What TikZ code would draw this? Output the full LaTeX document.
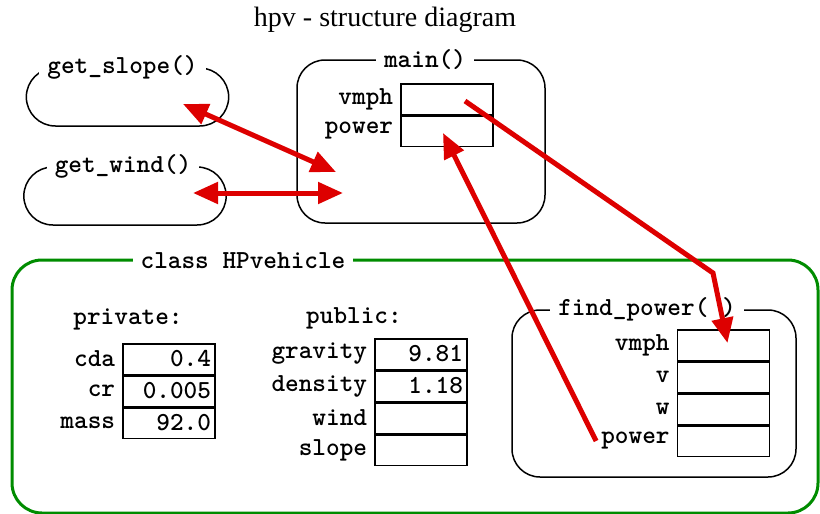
\documentclass[tikz,border=0pt]{standalone}
\usepackage{fontspec}
\setmainfont{Liberation Serif}
\usetikzlibrary{positioning, arrows.meta, shapes.misc}
\definecolor{linkred}{RGB}{221,0,0}
\definecolor{classgreen}{RGB}{0,140,0}
\tikzset{bigtip/.tip={Triangle[length=25pt, width=21pt]}}

\begin{document}
\begin{tikzpicture}[x=1pt, y=-1pt, node distance=5pt,
    every node/.style={font=\ttfamily\bfseries\fontsize{26}{28}\selectfont},
    cell/.style={draw, line width=1.5pt, minimum width=92pt, minimum height=30.5pt,
                 text width=84pt, align=right, inner xsep=4pt, inner ysep=0pt},
    varname/.style={inner sep=2pt},
    funcbox/.style={draw, line width=1.5pt, rounded corners=28pt},
    oval/.style={draw, line width=1.5pt, rounded rectangle, minimum width=209pt, minimum height=58pt},
    boxlabel/.style={fill=white, inner xsep=8pt, inner ysep=1pt},
    link/.style={draw=linkred, line width=5pt}]
  \useasboundingbox (0,0) rectangle (820,514);
  \node[font=\rmfamily\fontsize{28}{30}\selectfont] (title) at (385,20) {hpv - structure diagram};

  % free functions
  \node[oval] (slope) at (127.5,97) {};
  \node[boxlabel] (slopelbl) at ([xshift=-5pt]slope.north) {get\_slope()};
  \node[oval] (wind) at (125,196) {};
  \node[boxlabel] (windlbl) at ([xshift=-2pt]wind.north) {get\_wind()};

  % main
  \node[funcbox, minimum width=248pt, minimum height=163pt] (main) at (421,141.5) {};
  \node[boxlabel] (mainlbl) at ([xshift=4pt]main.north) {main()};
  \node[cell] (mvmph) at (447,99) {};
  \node[cell, below=0pt of mvmph] (mpower) {};
  \node[varname, left=of mvmph] {vmph};
  \node[varname, left=of mpower] {power};

  % class
  \node[draw=classgreen, line width=3pt, rounded corners=30pt,
        minimum width=806pt, minimum height=253pt] (hpv) at (415,386.5) {};
  \node[boxlabel] (hpvlbl) at (243,261) {class HPvehicle};

  \node (privhdr) at (128,319) {private:};
  \node[cell] (cda) at (169,359) {0.4};
  \node[cell, below=0pt of cda] (cr) {0.005};
  \node[cell, below=0pt of cr] (mass) {92.0};
  \node[varname, left=of cda] {cda};
  \node[varname, left=of cr] {cr};
  \node[varname, left=of mass] {mass};

  \node (pubhdr) at (354,318) {public:};
  \node[cell] (gravity) at (421,354) {9.81};
  \node[cell, below=0pt of gravity] (density) {1.18};
  \node[cell, below=0pt of density] (wnd) {};
  \node[cell, below=0pt of wnd] (slp) {};
  \node[varname, left=of gravity] {gravity};
  \node[varname, left=of density] {density};
  \node[varname, left=of wnd] {wind};
  \node[varname, left=of slp] {slope};

  % find_power
  \node[funcbox, minimum width=284pt, minimum height=167pt] (find) at (654,393.5) {};
  \node[boxlabel] (findlbl) at ([xshift=-7pt]find.north) {find\_power( )};
  \node[cell] (fvmph) at (723.5,345) {};
  \node[cell, below=0pt of fvmph] (fv) {};
  \node[cell, below=0pt of fv] (fw) {};
  \node[cell, below=0pt of fw] (fpower) {};
  \node[varname, left=of fvmph] {vmph};
  \node[varname, left=of fv] {v};
  \node[varname, left=of fw] {w};
  \node[varname, left=of fpower] (fpowerlbl) {power};

  % calls
  \coordinate (slopeend) at (183,104);
  \coordinate (mainslope) at (336,172);
  \coordinate (windend) at (193,193);
  \coordinate (mainwind) at (343,193);
  \coordinate (bend) at (713,273);
  \draw[link, bigtip-bigtip] (slopeend) -- (mainslope);
  \draw[link, bigtip-bigtip] (windend) -- (mainwind);
  \draw[link, -bigtip] ([xshift=18pt,yshift=-2pt]mvmph.center) -- (bend) -- ([xshift=4pt,yshift=2pt]fvmph.center);
  \draw[link, -bigtip] ([xshift=-3pt]fpowerlbl.west) -- ([xshift=-4pt,yshift=-2pt]mpower.center);
\end{tikzpicture}
\end{document}
